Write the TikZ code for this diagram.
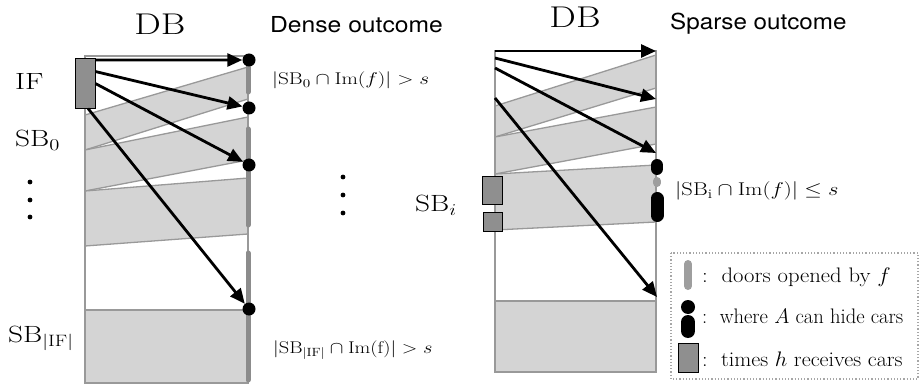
\RequirePackage{fix-cm}
\documentclass[tikz,border=0pt]{standalone}
\usepackage{fontspec}
\newfontfamily\helv{TeX Gyre Heros}
\usetikzlibrary{arrows.meta,calc}
\definecolor{bandfill}{gray}{0.83}
\definecolor{bandline}{gray}{0.6}
\definecolor{boxfill}{gray}{0.56}
\definecolor{doorgray}{gray}{0.55}
\definecolor{legdoor}{gray}{0.62}
\newcommand\hstretch[2]{\scalebox{#1}[1]{#2}}
\begin{document}
\begin{tikzpicture}[x=1pt,y=-1pt,
  band/.style={fill=bandfill,draw=bandline,line width=1.3pt,line join=round},
  frame/.style={draw=bandline,line width=1.6pt},
  hbox/.style={draw=black,fill=boxfill,line width=0.9pt,inner sep=0pt},
  door/.style={draw=doorgray,line width=5pt,line cap=round},
  hide/.style={circle,fill=black,inner sep=0pt,minimum size=13pt},
  arr/.style={line width=2.8pt,-{Triangle[length=15pt,width=13pt]}},
  big/.style={inner sep=0pt,font=\fontsize{30}{33}\selectfont},
  side/.style={inner sep=0pt,font=\fontsize{23.5}{26}\selectfont},
  title/.style={inner sep=0pt,font=\helv\fontsize{22}{25}\selectfont},
  cond/.style={inner sep=0pt,font=\fontsize{17}{20}\selectfont},
  leg/.style={inner sep=0pt,font=\fontsize{21}{24}\selectfont},
  vdot/.style={circle,fill=black,inner sep=0pt,minimum size=4.8pt}
]
\useasboundingbox (0,0) rectangle (920,387);

% ---------------- left: dense outcome ----------------
\draw[band] (85,115) -- (248,67) -- (248,99) -- (85,150) -- cycle;
\draw[band] (85,150) -- (248,117) -- (248,160) -- (85,191) -- cycle;
\draw[band] (85,191) -- (248,178) -- (248,234) -- (85,246) -- cycle;
\draw[band] (85,310) rectangle (248,383);
\draw[frame] (85,56) rectangle (248,383);

\draw[door] (248,67) -- (248,92);
\draw[door] (248,129) -- (248,225);
\draw[door] (248,253) -- (248,380);

\node[hbox,minimum width=20pt,minimum height=50pt] (IF) at (85,83) {};

\node[hide] (d1) at (249,60) {};
\node[hide] (d2) at (249,108) {};
\node[hide] (d3) at (249,165) {};
\node[hide] (d4) at (249,309) {};

\draw[arr] ([yshift=-2.5pt]IF.north east) -- (d1);
\draw[arr] ([yshift=-14pt]IF.north east) -- (d2);
\draw[arr] ([yshift=-26pt]IF.north east) -- (d3);
\draw[arr] ([xshift=3pt]IF.south) -- (d4);

\node[big,anchor=base] (db1) at (160,35) {\hstretch{1.25}{DB}};
\node[title,anchor=base west] (dense) at (270,33) {\hstretch{1.12}{Dense outcome}};
\node[side,anchor=base west] (lif) at (15,90) {\hstretch{1.3}{IF}};
\node[side,anchor=base west] (lsb0) at (15,147) {\hstretch{1.25}{SB$_0$}};
\node[side,anchor=base west] (lsbif) at (8,342) {\hstretch{1.25}{SB$_{|\mathrm{IF}|}$}};
\node[cond,anchor=base west] (c0) at (272,85) {\hstretch{1.25}{$|\mathrm{SB}_0\cap\mathrm{Im}(f)|>s$}};
\node[cond,anchor=base west] (cif) at (273,353) {\hstretch{1.2}{$\big|\mathrm{SB}_{|\mathrm{IF}|}\cap\mathrm{Im(f)}\big|>s$}};

\node[vdot] (l1) at (30,182) {};
\node[vdot] (l2) at (30,200) {};
\node[vdot] (l3) at (30,217) {};
\node[vdot] (m1) at (343,177) {};
\node[vdot] (m2) at (343,195) {};
\node[vdot] (m3) at (343,213) {};

% ---------------- right: sparse outcome ----------------
\draw[band] (495,106) -- (656,55) -- (656,88) -- (495,137) -- cycle;
\draw[band] (495,137) -- (656,107) -- (656,144) -- (495,174) -- cycle;
\draw[band] (495,174) -- (656,165) -- (656,222) -- (495,230) -- cycle;
\draw[band] (495,301) rectangle (656,372);
\draw[frame] (495,51) rectangle (656,372);

\node[hbox,minimum width=20pt,minimum height=28pt] (h1) at (492,190) {};
\node[hbox,minimum width=19pt,minimum height=19pt] (h2) at (492.5,221.5) {};

\draw[black,line width=12pt,line cap=round] (657,165) -- (657,169);
\draw[legdoor,line width=8pt,line cap=round] (657,181) -- (657,183);
\draw[black,line width=13pt,line cap=round] (657,198.5) -- (657,215.5);

\coordinate (s1) at (495,51);
\coordinate (s2) at (495,58);
\coordinate (s3) at (495,68);
\coordinate (s4) at (495,98);
\coordinate (e1) at (656,51);
\coordinate (e2) at (656,99);
\coordinate (e3) at (656,153);
\coordinate (e4) at (657,297);
\draw[arr] (s1) -- (e1);
\draw[arr] (s2) -- (e2);
\draw[arr] (s3) -- (e3);
\draw[arr] (s4) -- (e4);

\node[big,anchor=base] (db2) at (575,28) {\hstretch{1.25}{DB}};
\node[title,anchor=base west] (sparse) at (670,30) {\hstretch{1.1}{Sparse outcome}};
\node[side,anchor=base west] (lsbi) at (415,212) {\hstretch{1.25}{SB$_i$}};
\node[cond,anchor=base west,font=\fontsize{18.5}{21}\selectfont] (ci) at (675,196) {\hstretch{1.22}{$|\mathrm{SB}_\mathrm{i}\cap\mathrm{Im}(f)|\leq s$}};

% ---------------- legend ----------------
\draw[gray!70,line width=1.2pt,dash pattern=on 1.2pt off 2pt] (671,253) rectangle (918,379);
\draw[legdoor,line width=8pt,line cap=round] (688,264) -- (688,286);
\node[leg,anchor=base west] (t1) at (702,282) {\hstretch{1.08}{:~~doors opened by $f$}};
\node[circle,fill=black,inner sep=0pt,minimum size=14pt] (k1) at (688,307) {};
\draw[black,line width=14pt,line cap=round] (688,322) -- (688,331);
\node[leg,anchor=base west] (t2) at (702,323) {\hstretch{0.98}{:~~where $A$ can hide cars}};
\node[hbox,minimum width=20pt,minimum height=29pt] (k3) at (688,357.5) {};
\node[leg,anchor=base west] (t3) at (702,366) {\hstretch{1.05}{:~~times $h$ receives cars}};
\end{tikzpicture}
\end{document}
